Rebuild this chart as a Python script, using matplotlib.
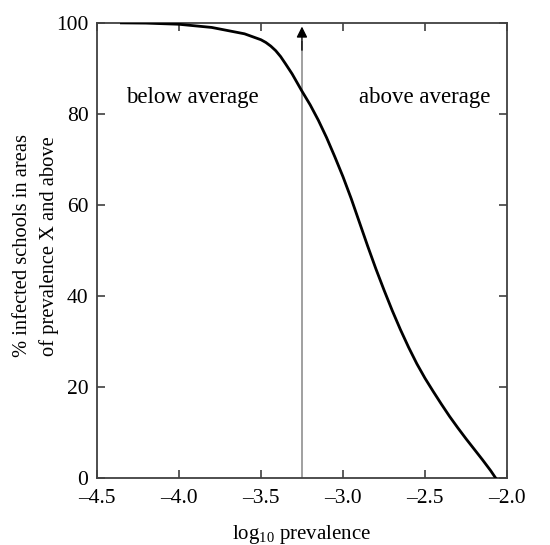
import matplotlib
matplotlib.use("Agg")
import matplotlib.pyplot as plt

log_prev = [-4.35, -4.2, -4.0, -3.8, -3.6, -3.5, -3.47, -3.44, -3.41, -3.38, -3.35, -3.31,
            -3.25, -3.2, -3.15, -3.1, -3.05, -3.0, -2.95, -2.9, -2.85, -2.8, -2.75, -2.7,
            -2.65, -2.6, -2.55, -2.5, -2.45, -2.4, -2.35, -2.3, -2.25, -2.2, -2.15, -2.1, -2.07]
pct_schools = [100, 99.95, 99.7, 99.0, 97.6, 96.3, 95.7, 94.9, 93.9, 92.6, 91.0, 88.8,
               85.0, 82.0, 78.6, 74.8, 70.6, 66.2, 61.4, 56.2, 51.0, 46.0, 41.3, 36.8,
               32.6, 28.7, 25.1, 21.9, 19.0, 16.2, 13.5, 11.0, 8.6, 6.3, 4.0, 1.6, 0]
mean_log_prev = -3.25
xticks = [-4.5, -4.0, -3.5, -3.0, -2.5, -2.0]
yticks = [0, 20, 40, 60, 80, 100]

plt.rcParams['font.family'] = ['Liberation Serif', 'DejaVu Serif']
plt.rcParams['mathtext.fontset'] = 'custom'
plt.rcParams['mathtext.rm'] = 'Liberation Serif'

fig = plt.figure(figsize=(5.5, 5.45), dpi=100)
ax = fig.add_axes([0.176, 0.123, 0.746, 0.835])

ax.plot(log_prev, pct_schools, color='black', lw=2.0, zorder=3,
        solid_joinstyle='round')

ax.vlines(mean_log_prev, 0, 96, color='0.6', lw=1.3, zorder=2)
ax.annotate('', xy=(mean_log_prev, 99.2), xytext=(mean_log_prev, 94),
            arrowprops=dict(arrowstyle='-|>', fc='black', ec='black', lw=1.0,
                            mutation_scale=16, shrinkA=0, shrinkB=0), zorder=4)

ax.text(-3.92, 83.5, 'below average', fontsize=16.5, ha='center', va='center')
ax.text(-2.5, 83.5, 'above average', fontsize=16.5, ha='center', va='center')

ax.set_xlim(-4.5, -2.0)
ax.set_ylim(0, 100)
ax.set_xticks(xticks)
ax.set_yticks(yticks)
ax.set_xticklabels([f"{v:.1f}".replace('-', '\u2013') for v in xticks])
ax.tick_params(direction='in', top=True, right=True, length=6, width=1.2,
               labelsize=15.5, color='0.25')
ax.tick_params(axis='x', pad=8)
ax.tick_params(axis='y', pad=6)
for s in ax.spines.values():
    s.set_linewidth(1.3)
    s.set_color('0.25')

ax.set_xlabel(r'log$_{10}$ prevalence', fontsize=15, labelpad=11)
ax.set_ylabel('% infected schools in areas\nof prevalence X and above', fontsize=14.8,
              linespacing=1.45)
ax.yaxis.set_label_coords(-0.093, 0.51)

fig.savefig('out.png', dpi=100)
